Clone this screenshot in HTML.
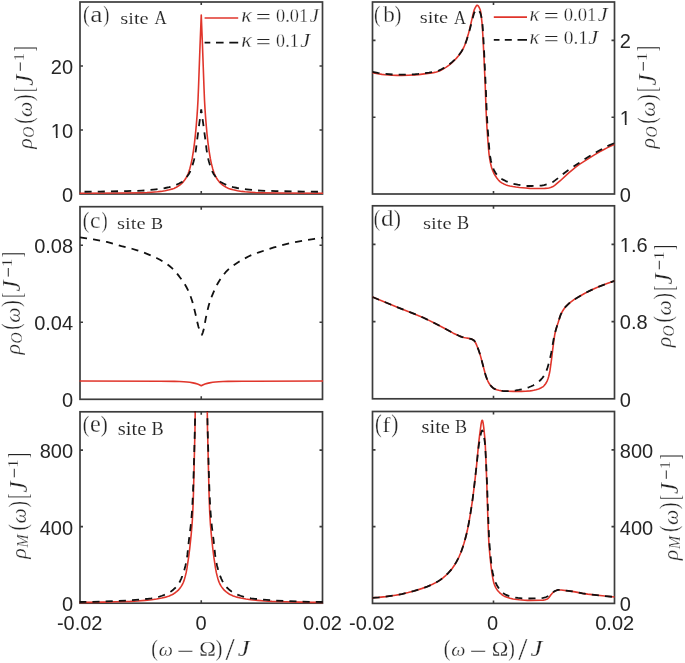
<!DOCTYPE html>
<html><head><meta charset="utf-8"><title>Figure</title>
<style>
html,body{margin:0;padding:0;background:#fff;}
body{width:685px;height:663px;overflow:hidden;font-family:"Liberation Sans",sans-serif;}
svg{display:block;will-change:transform;}
text{font-kerning:none;}
</style></head><body>
<svg width="685" height="663" viewBox="0 0 685 663">
<defs>
<clipPath id="c00"><rect x="79.40" y="1.40" width="243.70" height="193.60"/></clipPath>
<clipPath id="c10"><rect x="79.40" y="206.10" width="243.70" height="194.20"/></clipPath>
<clipPath id="c20"><rect x="79.40" y="411.20" width="243.70" height="193.00"/></clipPath>
<clipPath id="c01"><rect x="371.90" y="1.40" width="243.20" height="193.60"/></clipPath>
<clipPath id="c11"><rect x="371.90" y="205.20" width="243.20" height="194.60"/></clipPath>
<clipPath id="c21"><rect x="371.90" y="410.90" width="243.20" height="193.50"/></clipPath>
</defs>
<rect x="80.00" y="2.00" width="242.50" height="192.00" fill="none" stroke="#3c3c3c" stroke-width="1.7"/>
<path d="M201.25 2.00v3.00M201.25 194.00v-3.00M80.00 66.00h3.00M322.50 66.00h-3.00M80.00 130.00h3.00M322.50 130.00h-3.00" stroke="#3c3c3c" stroke-width="1.6" fill="none"/>
<rect x="80.00" y="206.70" width="242.50" height="192.60" fill="none" stroke="#3c3c3c" stroke-width="1.7"/>
<path d="M201.25 206.70v3.00M201.25 399.30v-3.00M80.00 245.22h3.00M322.50 245.22h-3.00M80.00 322.26h3.00M322.50 322.26h-3.00" stroke="#3c3c3c" stroke-width="1.6" fill="none"/>
<rect x="80.00" y="411.80" width="242.50" height="191.40" fill="none" stroke="#3c3c3c" stroke-width="1.7"/>
<path d="M201.25 411.80v3.00M201.25 603.20v-3.00M80.00 450.08h3.00M322.50 450.08h-3.00M80.00 526.64h3.00M322.50 526.64h-3.00" stroke="#3c3c3c" stroke-width="1.6" fill="none"/>
<rect x="372.50" y="2.00" width="242.00" height="192.00" fill="none" stroke="#3c3c3c" stroke-width="1.7"/>
<path d="M493.50 2.00v3.00M493.50 194.00v-3.00M372.50 40.40h3.00M614.50 40.40h-3.00M372.50 117.20h3.00M614.50 117.20h-3.00" stroke="#3c3c3c" stroke-width="1.6" fill="none"/>
<rect x="372.50" y="205.80" width="242.00" height="193.00" fill="none" stroke="#3c3c3c" stroke-width="1.7"/>
<path d="M493.50 205.80v3.00M493.50 398.80v-3.00M372.50 244.40h3.00M614.50 244.40h-3.00M372.50 321.60h3.00M614.50 321.60h-3.00" stroke="#3c3c3c" stroke-width="1.6" fill="none"/>
<rect x="372.50" y="411.50" width="242.00" height="191.90" fill="none" stroke="#3c3c3c" stroke-width="1.7"/>
<path d="M493.50 411.50v3.00M493.50 603.40v-3.00M372.50 449.88h3.00M614.50 449.88h-3.00M372.50 526.64h3.00M614.50 526.64h-3.00" stroke="#3c3c3c" stroke-width="1.6" fill="none"/>
<path d="M79.25 193.30L122.00 193.01L142.50 192.70L147.00 192.54L151.75 192.25L157.50 191.78L160.75 191.42L165.00 190.74L169.25 189.83L172.75 188.86L174.00 188.40L175.25 187.84L176.75 187.03L178.25 186.09L179.75 185.02L181.50 183.61L182.50 182.67L183.25 181.86L184.25 180.61L185.00 179.55L186.00 177.97L187.00 176.18L187.75 174.66L188.25 173.46L189.00 171.35L189.75 168.90L191.25 163.09L192.25 158.13L193.50 150.28L194.50 142.84L195.50 133.70L196.25 125.56L197.00 116.23L197.50 108.87L198.00 100.00L198.50 87.66L200.00 46.30L201.25 15.00L202.50 46.30L204.00 87.66L204.50 100.00L205.00 108.87L205.50 116.23L206.25 125.56L207.00 133.70L208.00 142.84L209.00 150.28L210.25 158.13L211.25 163.09L212.75 168.90L213.50 171.35L214.25 173.46L214.75 174.66L215.50 176.18L216.50 177.97L217.50 179.55L218.25 180.61L219.25 181.86L220.00 182.67L221.00 183.61L222.75 185.02L224.25 186.09L225.75 187.03L227.25 187.84L228.50 188.40L229.75 188.86L233.25 189.83L237.50 190.74L241.75 191.42L245.00 191.78L250.75 192.25L255.50 192.54L260.00 192.70L280.50 193.01L323.25 193.30" fill="none" stroke="#e0352b" stroke-width="1.6" stroke-linejoin="round" clip-path="url(#c00)"/>
<path d="M201.25 109.50L197.45 137.28L195.85 150.33L195.25 153.89L194.65 156.99L194.05 159.71L193.45 162.08L192.45 165.40L191.25 168.86L190.05 171.75L189.05 173.65L187.25 176.36L185.45 178.64L183.65 180.50L182.65 181.34L181.85 181.91L179.05 183.52L175.85 185.02L172.65 186.20L169.25 187.17L165.25 188.00L160.85 188.72L155.85 189.35L147.85 190.21L144.65 190.48L141.85 190.63L126.85 191.11L100.05 191.58L79.25 191.80" fill="none" stroke="#111111" stroke-width="1.8" stroke-linejoin="round" stroke-dasharray="7.1 6.1" clip-path="url(#c00)" stroke-dashoffset="3.4"/>
<path d="M201.25 109.50L205.05 137.28L206.65 150.33L207.25 153.89L207.85 156.99L208.45 159.71L209.05 162.08L210.05 165.40L211.25 168.86L212.45 171.75L213.45 173.65L215.25 176.36L217.05 178.64L218.85 180.50L219.85 181.34L220.65 181.91L223.45 183.52L226.65 185.02L229.85 186.20L233.25 187.17L237.25 188.00L241.65 188.72L246.65 189.35L254.65 190.21L257.85 190.48L260.65 190.63L275.65 191.11L302.45 191.58L323.25 191.80" fill="none" stroke="#111111" stroke-width="1.8" stroke-linejoin="round" stroke-dasharray="7.1 6.1" clip-path="url(#c00)" stroke-dashoffset="3.4"/>
<path d="M372.50 72.60L377.75 73.70L382.00 74.38L385.00 74.70L392.25 75.20L397.00 75.38L401.75 75.38L408.25 75.23L415.25 74.91L418.50 74.59L430.00 73.15L433.50 72.60L436.50 71.98L438.50 71.34L440.50 70.44L443.00 69.07L446.25 67.08L448.75 65.33L451.25 63.30L453.75 60.98L456.50 58.11L458.50 55.77L460.25 53.43L462.00 50.71L463.50 48.01L464.50 45.79L465.75 42.42L467.00 38.58L468.50 33.55L469.75 28.58L473.25 13.44L474.00 10.58L474.25 9.86L475.00 8.19L476.00 6.31L476.50 5.67L476.75 5.46L477.00 5.33L477.25 5.30L477.50 5.36L477.75 5.48L478.25 5.94L479.00 7.08L480.00 9.25L480.25 9.95L480.50 10.98L480.75 12.35L481.25 15.93L482.00 22.80L482.25 25.70L483.00 37.95L484.00 57.67L485.25 86.25L486.00 108.27L486.50 119.48L487.00 128.03L487.75 138.77L488.50 148.56L489.00 153.79L489.75 159.07L490.50 163.12L491.25 166.24L491.75 167.90L492.50 170.07L493.75 173.02L495.00 175.30L497.00 178.29L498.00 179.58L499.00 180.69L500.25 181.83L501.75 182.83L503.75 183.92L506.00 184.89L507.75 185.47L509.75 185.97L512.75 186.57L515.75 187.04L519.50 187.48L525.75 188.06L529.75 188.35L533.00 188.48L541.50 188.50L544.75 188.42L547.75 188.22L548.75 188.04L549.75 187.76L551.25 187.24L553.00 186.51L554.00 185.93L555.00 185.19L560.00 180.97L568.75 172.96L571.50 170.56L576.00 166.87L578.00 165.36L579.75 164.14L594.00 155.17L600.00 151.63L603.50 149.70L607.00 147.89L610.75 146.08L614.50 144.40" fill="none" stroke="#e0352b" stroke-width="1.6" stroke-linejoin="round" clip-path="url(#c01)"/>
<path d="M372.50 71.80L377.75 72.88L382.00 73.57L385.00 73.90L392.75 74.49L397.00 74.67L401.25 74.69L407.25 74.56L414.25 74.28L418.00 73.94L429.00 72.59L432.50 72.08L435.50 71.50L437.50 70.99L439.25 70.34L441.50 69.26L444.00 67.85L447.00 66.00L449.25 64.40L451.75 62.36L454.50 59.81L457.25 56.93L459.25 54.56L461.00 52.16L462.75 49.36L464.00 47.00L465.25 43.99L466.50 40.46L468.25 35.04L469.50 30.64L472.25 20.05L473.25 15.94L474.00 13.38L474.25 12.78L474.75 11.93L475.50 10.80L476.00 10.19L476.50 9.75L476.75 9.61L477.00 9.52L477.50 9.54L477.75 9.64L478.25 9.97L479.00 10.79L480.00 12.33L480.50 13.43L481.00 15.20L481.50 17.64L482.00 20.69L482.50 24.59L483.00 31.31L484.00 49.28L486.00 92.39L486.50 106.19L487.00 117.22L487.50 125.59L488.25 136.05L489.25 148.56L489.75 153.53L490.25 156.96L491.00 160.98L491.75 164.10L492.75 167.18L494.00 170.14L495.25 172.45L496.75 174.63L497.75 175.83L498.50 176.61L499.75 177.63L503.00 179.65L505.75 181.07L508.50 182.25L510.75 183.03L513.00 183.66L517.75 184.71L521.25 185.37L524.50 185.81L527.25 185.99L531.50 185.98L536.50 185.85L540.25 185.69L541.50 185.56L544.00 185.11L546.75 184.46L548.50 183.91L550.50 183.13L552.00 182.45L553.25 181.72L554.75 180.64L558.75 177.54L564.75 172.72L568.50 169.99L572.75 167.10L581.00 161.63L585.75 158.59L591.25 155.19L597.50 151.51L605.75 146.98L608.00 145.86L610.25 144.84L612.25 144.02L614.50 143.20" fill="none" stroke="#111111" stroke-width="1.8" stroke-linejoin="round" stroke-dasharray="7.1 6.1" clip-path="url(#c01)"/>
<path d="M80.00 237.40L86.50 238.35L93.50 239.48L102.25 241.02L106.75 241.93L111.25 243.09L121.50 246.09L132.00 248.75L137.25 250.30L142.00 251.92L147.00 253.82L152.25 255.99L156.50 257.95L160.00 259.77L163.50 261.82L166.50 263.80L169.50 266.05L172.00 268.17L174.00 270.14L176.50 272.96L179.25 276.42L182.25 280.44L184.25 283.38L186.25 286.72L188.00 290.13L189.25 292.95L190.50 296.14L191.75 299.70L192.75 302.86L194.00 307.73L196.00 316.20L197.75 324.09L198.50 326.96L199.25 329.18L200.25 331.75L201.00 333.36L201.90 334.80L202.40 333.70L202.90 332.29L203.40 330.62L203.90 328.66L205.90 317.70L207.40 310.83L208.65 305.78L209.65 302.42L210.65 299.43L211.90 296.08L213.15 293.04L215.15 288.56L217.15 284.53L218.90 281.44L221.15 278.00L223.40 274.92L225.65 272.21L227.90 269.92L230.65 267.54L232.40 266.19L234.40 264.76L238.90 261.85L243.90 258.88L248.40 256.51L251.90 254.92L255.40 253.54L258.90 252.32L267.90 249.35L273.90 247.46L279.40 245.89L285.15 244.37L290.40 243.15L296.65 241.91L305.90 240.26L314.65 238.80L322.50 237.60" fill="none" stroke="#111111" stroke-width="1.8" stroke-linejoin="round" stroke-dasharray="7.1 6.1" clip-path="url(#c10)"/>
<path d="M79.25 381.00L160.00 381.27L174.50 381.38L179.50 381.48L183.75 381.70L187.00 381.95L189.75 382.30L193.00 382.85L195.25 383.38L197.50 384.09L199.25 384.80L201.25 385.80L203.25 384.80L205.00 384.09L207.25 383.38L209.50 382.85L212.75 382.30L215.50 381.95L218.75 381.70L223.00 381.48L228.00 381.38L242.50 381.27L323.25 381.00" fill="none" stroke="#e0352b" stroke-width="1.6" stroke-linejoin="round" clip-path="url(#c10)"/>
<path d="M372.50 297.00L396.75 307.02L415.00 314.16L419.25 315.90L423.00 317.53L428.50 320.12L435.25 323.52L445.25 328.74L453.25 333.15L459.00 335.80L461.50 336.79L463.75 337.49L465.25 337.81L468.75 338.39L470.50 338.80L472.00 339.33L473.25 339.98L474.00 340.50L474.50 341.01L475.00 341.74L475.50 342.65L476.75 345.44L478.00 348.49L478.75 350.51L479.75 353.55L480.75 356.86L485.00 373.05L485.75 375.63L486.50 377.80L487.75 380.81L489.00 383.32L490.00 384.80L491.75 386.74L492.75 387.66L493.50 388.25L494.25 388.73L495.00 389.09L496.75 389.66L498.75 390.20L500.75 390.64L502.50 390.93L505.50 391.19L513.25 391.35L521.50 391.40L525.50 391.23L530.00 390.86L531.75 390.60L533.75 390.22L536.00 389.70L537.75 389.21L539.25 388.69L540.75 388.03L542.75 386.90L543.50 386.30L544.25 385.54L545.00 384.60L545.75 383.50L546.50 382.23L547.25 380.78L548.00 378.78L548.75 376.19L549.50 373.05L550.00 370.45L551.50 359.54L552.75 349.04L554.00 339.61L554.75 334.64L555.50 331.01L556.50 327.43L558.25 322.26L560.00 316.61L560.75 314.55L561.75 312.53L562.75 310.77L563.75 309.21L565.00 307.53L566.25 306.08L568.00 304.34L570.00 302.59L572.00 301.06L574.00 299.68L576.50 298.11L581.00 295.44L584.50 293.48L588.00 291.66L591.50 289.96L595.25 288.25L599.25 286.53L603.25 284.90L607.00 283.47L610.75 282.13L614.50 280.90" fill="none" stroke="#e0352b" stroke-width="1.6" stroke-linejoin="round" clip-path="url(#c11)"/>
<path d="M372.50 297.00L396.75 307.02L415.00 314.16L419.25 315.90L423.00 317.53L428.50 320.12L435.25 323.52L445.25 328.74L453.25 333.15L459.00 335.80L461.50 336.79L463.75 337.49L465.25 337.81L469.00 338.44L470.75 338.87L472.25 339.44L473.50 340.14L474.00 340.50L474.50 341.01L475.00 341.74L475.50 342.65L476.50 344.85L478.50 349.81L479.50 352.76L480.75 356.86L484.75 372.14L486.00 376.41L486.75 378.43L488.00 381.36L489.00 383.32L489.75 384.48L491.25 386.23L492.75 387.66L494.00 388.58L495.25 389.18L499.00 390.29L500.75 390.68L502.50 390.97L504.00 391.13L505.50 391.20L509.50 391.06L513.25 390.76L515.75 390.47L518.75 389.97L522.00 389.31L524.25 388.75L526.50 388.08L528.75 387.29L531.25 386.28L533.00 385.47L534.75 384.49L536.50 383.34L538.25 382.01L540.00 380.50L541.25 379.26L542.50 377.83L543.75 376.14L544.50 374.97L545.25 373.65L546.25 371.36L547.50 367.76L549.00 362.73L550.00 358.66L551.25 352.75L552.00 348.74L553.50 339.81L554.75 334.07L555.50 331.13L556.25 328.51L560.00 316.62L560.50 315.18L561.00 314.00L561.75 312.53L562.75 310.77L564.50 308.17L565.50 306.92L566.50 305.81L568.00 304.34L569.75 302.80L571.50 301.42L573.50 300.01L576.00 298.41L580.50 295.73L583.25 294.16L586.25 292.56L589.50 290.92L592.75 289.38L596.25 287.81L600.25 286.11L607.50 283.28L611.00 282.04L614.50 280.90" fill="none" stroke="#111111" stroke-width="1.8" stroke-linejoin="round" stroke-dasharray="7.1 6.1" clip-path="url(#c11)"/>
<path d="M79.30 602.40L90.80 602.34L103.00 602.15L117.00 601.82L130.50 601.39L137.50 601.00L144.90 600.41L151.70 599.74L156.60 599.06L161.80 598.08L165.60 597.14L167.50 596.55L169.30 595.90L171.20 595.11L172.50 594.48L173.80 593.71L175.20 592.74L176.60 591.62L178.00 590.35L179.00 589.32L180.00 588.14L180.90 586.90L181.70 585.63L182.60 584.00L183.20 582.72L183.80 581.16L184.50 579.01L185.30 576.14L186.10 572.88L187.00 568.21L188.60 557.46L189.70 548.75L191.20 534.40L192.00 525.11L192.40 519.19L192.80 511.37L193.20 501.39L193.50 491.88L195.00 428.81L195.30 405.00" fill="none" stroke="#e0352b" stroke-width="1.6" stroke-linejoin="round" clip-path="url(#c20)"/>
<path d="M207.20 405.00L207.50 428.81L209.00 491.88L209.30 501.39L209.70 511.37L210.10 519.19L210.50 525.11L211.30 534.40L212.80 548.75L213.90 557.46L215.50 568.21L216.40 572.88L217.20 576.14L218.00 579.01L218.70 581.16L219.30 582.72L219.90 584.00L220.80 585.63L221.60 586.90L222.50 588.14L223.50 589.32L224.50 590.35L225.90 591.62L227.30 592.74L228.70 593.71L230.00 594.48L231.30 595.11L233.20 595.90L235.00 596.55L236.90 597.14L240.70 598.08L245.90 599.06L250.80 599.74L257.60 600.41L265.00 601.00L272.00 601.39L285.50 601.82L299.50 602.15L311.70 602.34L323.20 602.40" fill="none" stroke="#e0352b" stroke-width="1.6" stroke-linejoin="round" clip-path="url(#c20)"/>
<path d="M79.25 602.00L89.65 601.91L100.95 601.64L113.35 601.17L128.05 600.48L131.75 600.21L147.55 598.80L151.45 598.36L154.55 597.88L156.35 597.49L158.25 597.00L162.05 595.75L164.35 594.85L166.65 593.85L168.15 593.11L169.55 592.33L170.95 591.43L172.25 590.49L173.55 589.44L174.85 588.25L176.15 586.93L177.45 585.46L178.15 584.52L178.95 583.25L180.05 581.20L181.15 578.80L182.25 576.10L183.45 572.81L184.15 570.63L184.85 568.11L185.55 565.18L186.15 562.32L186.95 557.89L187.35 554.93L188.95 539.90L190.55 527.22L191.25 520.55L191.85 513.19L192.45 503.72L192.85 495.74L193.25 485.29L193.85 466.70L194.85 429.10L195.05 420.00L195.25 405.00" fill="none" stroke="#111111" stroke-width="1.8" stroke-linejoin="round" stroke-dasharray="7.1 6.1" clip-path="url(#c20)"/>
<path d="M207.25 405.00L207.45 420.00L207.65 429.10L208.65 466.70L209.25 485.29L209.65 495.74L210.05 503.72L210.65 513.19L211.25 520.55L211.95 527.22L213.55 539.90L215.15 554.93L215.55 557.89L216.35 562.32L216.95 565.18L217.65 568.11L218.35 570.63L219.05 572.81L220.25 576.10L221.35 578.80L222.45 581.20L223.55 583.25L224.35 584.52L225.05 585.46L226.35 586.93L227.65 588.25L228.95 589.44L230.25 590.49L231.55 591.43L232.95 592.33L234.35 593.11L235.85 593.85L238.15 594.85L240.45 595.75L244.25 597.00L246.15 597.49L247.95 597.88L251.05 598.36L254.95 598.80L270.75 600.21L274.45 600.48L289.15 601.17L301.55 601.64L312.85 601.91L323.25 602.00" fill="none" stroke="#111111" stroke-width="1.8" stroke-linejoin="round" stroke-dasharray="7.1 6.1" clip-path="url(#c20)"/>
<path d="M372.50 597.80L378.75 597.37L385.75 596.59L395.50 595.17L399.00 594.59L402.00 594.01L408.25 592.55L415.00 590.66L422.25 588.37L425.25 587.32L428.00 586.26L432.50 584.30L436.75 582.11L438.50 581.09L440.00 580.11L443.00 577.87L444.75 576.38L446.50 574.76L448.25 573.01L450.00 571.11L451.25 569.64L452.50 568.02L454.75 564.68L457.00 560.79L459.25 556.29L460.75 552.79L462.25 548.70L464.00 543.21L465.75 536.93L467.25 530.80L468.50 524.69L469.50 519.17L470.75 511.63L472.00 503.50L473.00 496.31L474.50 484.04L476.50 466.07L478.50 444.94L479.25 438.18L481.00 424.61L481.50 421.90L481.75 420.99L482.00 420.44L482.25 420.31L482.50 420.62L482.75 421.34L483.00 422.43L483.25 423.85L483.75 427.55L484.75 437.27L485.25 444.57L485.75 455.62L486.75 482.14L487.75 514.33L488.50 535.73L489.00 544.73L489.50 550.85L490.25 558.95L491.25 567.98L492.00 573.43L493.00 579.27L493.75 582.67L494.50 584.85L495.75 587.58L496.50 588.88L497.25 589.98L498.25 591.22L499.50 592.55L500.75 593.71L502.00 594.73L503.25 595.58L504.25 596.14L507.00 597.31L510.00 598.30L513.00 598.98L519.25 599.79L524.75 600.27L527.25 600.37L530.00 600.40L541.00 600.24L543.25 600.12L544.25 599.94L545.25 599.67L547.25 598.91L547.75 598.67L548.25 598.30L549.00 597.43L550.75 594.99L552.75 592.77L553.75 591.86L555.00 591.12L556.50 590.40L557.50 590.06L558.50 589.90L559.75 589.93L561.25 590.06L568.25 590.85L572.00 591.34L575.00 591.85L582.50 593.37L587.75 594.13L602.25 595.78L614.50 597.00" fill="none" stroke="#e0352b" stroke-width="1.6" stroke-linejoin="round" clip-path="url(#c21)"/>
<path d="M372.50 597.80L378.75 597.37L385.75 596.59L395.25 595.21L398.75 594.64L401.75 594.06L407.75 592.68L414.25 590.88L421.50 588.62L424.50 587.59L427.25 586.56L431.75 584.65L436.00 582.52L437.75 581.54L439.25 580.61L442.25 578.46L444.00 577.03L445.75 575.47L447.50 573.77L449.00 572.21L451.50 569.33L452.75 567.67L454.00 565.86L456.25 562.15L458.25 558.37L460.00 554.61L461.50 550.82L463.00 546.45L464.75 540.62L466.50 534.00L467.75 528.47L469.00 522.00L470.25 514.73L471.75 505.17L472.75 498.12L474.25 485.79L476.75 463.91L478.25 449.73L479.00 443.82L480.25 436.77L481.00 433.20L481.50 431.49L481.75 430.92L482.00 430.59L482.25 430.51L482.50 430.70L482.75 431.16L483.00 431.85L483.25 432.77L483.75 435.17L484.75 441.64L485.00 443.80L485.25 446.90L486.00 460.42L487.00 482.70L488.25 517.97L489.00 536.29L489.25 540.78L489.75 547.26L491.50 565.57L492.00 569.08L492.75 573.02L493.50 576.27L494.50 579.70L495.50 582.32L496.75 584.97L498.00 587.11L499.50 589.18L501.75 591.73L502.75 592.68L503.75 593.50L504.50 594.01L505.50 594.56L508.50 595.93L511.00 596.80L513.25 597.31L518.00 597.94L522.25 598.33L526.50 598.50L533.50 598.41L541.75 598.04L543.00 597.93L544.00 597.73L545.00 597.45L546.25 596.99L549.00 595.69L549.75 595.14L552.00 593.08L553.75 591.73L554.75 591.12L556.25 590.48L557.25 590.13L558.00 589.96L558.75 589.90L561.50 590.08L568.25 590.85L572.25 591.38L575.25 591.90L582.50 593.37L587.50 594.10L602.00 595.76L614.50 597.00" fill="none" stroke="#111111" stroke-width="1.8" stroke-linejoin="round" stroke-dasharray="7.1 6.1" clip-path="url(#c21)"/>
<path d="M204.6 18H238.2" stroke="#e0352b" stroke-width="1.6"/>
<path d="M493.8 17.1H527" stroke="#e0352b" stroke-width="1.6"/>
<path d="M204.6 42.7H210.3M216 42.7H223.6M229.3 42.7H238.2" stroke="#111111" stroke-width="1.8"/>
<path d="M493.8 39.9H499.5M504.8 39.9H511.8M517.5 39.9H527" stroke="#111111" stroke-width="1.8"/>
<text x="73.10" y="73.88" font-size="20" text-anchor="end" font-family="Liberation Sans, sans-serif" fill="#262626">20</text>
<text x="73.10" y="137.88" font-size="20" text-anchor="end" font-family="Liberation Sans, sans-serif" fill="#262626">10</text>
<rect x="51.65" y="135.49" width="4.23" height="3.19" fill="#fff"/>
<rect x="57.65" y="135.49" width="4.00" height="3.19" fill="#fff"/>
<text x="73.10" y="201.88" font-size="20" text-anchor="end" font-family="Liberation Sans, sans-serif" fill="#262626">0</text>
<text x="73.10" y="253.10" font-size="20" text-anchor="end" font-family="Liberation Sans, sans-serif" fill="#262626">0.08</text>
<text x="73.10" y="330.14" font-size="20" text-anchor="end" font-family="Liberation Sans, sans-serif" fill="#262626">0.04</text>
<text x="73.10" y="407.18" font-size="20" text-anchor="end" font-family="Liberation Sans, sans-serif" fill="#262626">0</text>
<text x="73.10" y="457.96" font-size="20" text-anchor="end" font-family="Liberation Sans, sans-serif" fill="#262626">800</text>
<text x="73.10" y="534.52" font-size="20" text-anchor="end" font-family="Liberation Sans, sans-serif" fill="#262626">400</text>
<text x="73.10" y="611.08" font-size="20" text-anchor="end" font-family="Liberation Sans, sans-serif" fill="#262626">0</text>
<text x="619.80" y="48.28" font-size="20" text-anchor="start" font-family="Liberation Sans, sans-serif" fill="#262626">2</text>
<text x="619.80" y="125.08" font-size="20" text-anchor="start" font-family="Liberation Sans, sans-serif" fill="#262626">1</text>
<rect x="620.60" y="122.69" width="4.23" height="3.19" fill="#fff"/>
<rect x="626.60" y="122.69" width="4.00" height="3.19" fill="#fff"/>
<text x="619.80" y="201.88" font-size="20" text-anchor="start" font-family="Liberation Sans, sans-serif" fill="#262626">0</text>
<text x="619.80" y="252.28" font-size="20" text-anchor="start" font-family="Liberation Sans, sans-serif" fill="#262626">1.6</text>
<rect x="620.60" y="249.89" width="4.23" height="3.19" fill="#fff"/>
<rect x="626.60" y="249.89" width="4.00" height="3.19" fill="#fff"/>
<text x="619.80" y="329.48" font-size="20" text-anchor="start" font-family="Liberation Sans, sans-serif" fill="#262626">0.8</text>
<text x="619.80" y="406.68" font-size="20" text-anchor="start" font-family="Liberation Sans, sans-serif" fill="#262626">0</text>
<text x="619.80" y="457.76" font-size="20" text-anchor="start" font-family="Liberation Sans, sans-serif" fill="#262626">800</text>
<text x="619.80" y="534.52" font-size="20" text-anchor="start" font-family="Liberation Sans, sans-serif" fill="#262626">400</text>
<text x="619.80" y="611.28" font-size="20" text-anchor="start" font-family="Liberation Sans, sans-serif" fill="#262626">0</text>
<text x="79.70" y="630.00" font-size="20" text-anchor="middle" font-family="Liberation Sans, sans-serif" fill="#262626">-0.02</text>
<text x="201.00" y="630.00" font-size="20" text-anchor="middle" font-family="Liberation Sans, sans-serif" fill="#262626">0</text>
<text x="322.50" y="630.00" font-size="20" text-anchor="middle" font-family="Liberation Sans, sans-serif" fill="#262626">0.02</text>
<text x="371.90" y="630.00" font-size="20" text-anchor="middle" font-family="Liberation Sans, sans-serif" fill="#262626">-0.02</text>
<text x="492.60" y="630.00" font-size="20" text-anchor="middle" font-family="Liberation Sans, sans-serif" fill="#262626">0</text>
<text x="614.70" y="630.00" font-size="20" text-anchor="middle" font-family="Liberation Sans, sans-serif" fill="#262626">0.02</text>
<text transform="matrix(0.2025 0 0 0.2382 83.01 22.33)" font-size="100" font-family="Liberation Serif, serif" fill="#242424" stroke="#fff" stroke-width="1.18">(</text>
<text transform="matrix(0.2759 0 0 0.2307 90.23 21.87)" font-size="100" font-family="Liberation Serif, serif" fill="#242424" stroke="#fff" stroke-width="1.03">a</text>
<text transform="matrix(0.1830 0 0 0.2382 103.31 22.33)" font-size="100" font-family="Liberation Serif, serif" fill="#242424" stroke="#fff" stroke-width="1.23">)</text>
<text transform="matrix(0.2049 0 0 0.1689 120.26 23.89)" font-size="100" font-family="Liberation Serif, serif" fill="#242424" stroke="#fff" stroke-width="0.64">site</text>
<text transform="matrix(0.1688 0 0 0.1818 154.44 23.90)" font-size="100" font-family="Liberation Serif, serif" fill="#242424" stroke="#fff" stroke-width="0.68">A</text>
<text transform="matrix(0.1947 0 0 0.2327 373.94 21.95)" font-size="100" font-family="Liberation Serif, serif" fill="#242424" stroke="#fff" stroke-width="1.22">(</text>
<text transform="matrix(0.2316 0 0 0.2295 383.20 22.08)" font-size="100" font-family="Liberation Serif, serif" fill="#242424" stroke="#fff" stroke-width="1.13">b</text>
<text transform="matrix(0.1966 0 0 0.2327 394.77 21.95)" font-size="100" font-family="Liberation Serif, serif" fill="#242424" stroke="#fff" stroke-width="1.21">)</text>
<text transform="matrix(0.2049 0 0 0.1749 419.76 23.48)" font-size="100" font-family="Liberation Serif, serif" fill="#242424" stroke="#fff" stroke-width="0.63">site</text>
<text transform="matrix(0.1659 0 0 0.1787 453.94 23.50)" font-size="100" font-family="Liberation Serif, serif" fill="#242424" stroke="#fff" stroke-width="0.70">A</text>
<text transform="matrix(0.1947 0 0 0.2349 82.84 227.80)" font-size="100" font-family="Liberation Serif, serif" fill="#242424" stroke="#fff" stroke-width="1.21">(</text>
<text transform="matrix(0.2333 0 0 0.2370 90.06 227.67)" font-size="100" font-family="Liberation Serif, serif" fill="#242424" stroke="#fff" stroke-width="1.11">c</text>
<text transform="matrix(0.1830 0 0 0.2349 101.41 227.80)" font-size="100" font-family="Liberation Serif, serif" fill="#242424" stroke="#fff" stroke-width="1.24">)</text>
<text transform="matrix(0.2064 0 0 0.1645 117.05 229.09)" font-size="100" font-family="Liberation Serif, serif" fill="#242424" stroke="#fff" stroke-width="0.65">site</text>
<text transform="matrix(0.1816 0 0 0.1748 150.88 229.05)" font-size="100" font-family="Liberation Serif, serif" fill="#242424" stroke="#fff" stroke-width="0.67">B</text>
<text transform="matrix(0.1888 0 0 0.2349 373.82 225.80)" font-size="100" font-family="Liberation Serif, serif" fill="#242424" stroke="#fff" stroke-width="1.23">(</text>
<text transform="matrix(0.2502 0 0 0.2373 381.00 226.37)" font-size="100" font-family="Liberation Serif, serif" fill="#242424" stroke="#fff" stroke-width="1.07">d</text>
<text transform="matrix(0.2161 0 0 0.2349 393.80 225.80)" font-size="100" font-family="Liberation Serif, serif" fill="#242424" stroke="#fff" stroke-width="1.15">)</text>
<text transform="matrix(0.2072 0 0 0.1674 422.95 228.99)" font-size="100" font-family="Liberation Serif, serif" fill="#242424" stroke="#fff" stroke-width="0.64">site</text>
<text transform="matrix(0.1833 0 0 0.1779 456.97 228.95)" font-size="100" font-family="Liberation Serif, serif" fill="#242424" stroke="#fff" stroke-width="0.66">B</text>
<text transform="matrix(0.1947 0 0 0.2294 82.84 432.02)" font-size="100" font-family="Liberation Serif, serif" fill="#242424" stroke="#fff" stroke-width="1.23">(</text>
<text transform="matrix(0.2432 0 0 0.2412 90.05 431.76)" font-size="100" font-family="Liberation Serif, serif" fill="#242424" stroke="#fff" stroke-width="1.07">e</text>
<text transform="matrix(0.2103 0 0 0.2294 100.82 432.02)" font-size="100" font-family="Liberation Serif, serif" fill="#242424" stroke="#fff" stroke-width="1.18">)</text>
<text transform="matrix(0.2068 0 0 0.1779 117.65 434.78)" font-size="100" font-family="Liberation Serif, serif" fill="#242424" stroke="#fff" stroke-width="0.62">site</text>
<text transform="matrix(0.1824 0 0 0.1931 151.52 434.74)" font-size="100" font-family="Liberation Serif, serif" fill="#242424" stroke="#fff" stroke-width="0.64">B</text>
<text transform="matrix(0.2025 0 0 0.2426 375.01 431.63)" font-size="100" font-family="Liberation Serif, serif" fill="#242424" stroke="#fff" stroke-width="1.17">(</text>
<text transform="matrix(0.2465 0 0 0.2166 382.19 431.85)" font-size="100" font-family="Liberation Serif, serif" fill="#242424" stroke="#fff" stroke-width="1.12">f</text>
<text transform="matrix(0.2161 0 0 0.2426 391.15 431.63)" font-size="100" font-family="Liberation Serif, serif" fill="#242424" stroke="#fff" stroke-width="1.13">)</text>
<text transform="matrix(0.2056 0 0 0.1913 421.46 433.26)" font-size="100" font-family="Liberation Serif, serif" fill="#242424" stroke="#fff" stroke-width="0.60">site</text>
<text transform="matrix(0.1816 0 0 0.1809 455.08 433.25)" font-size="100" font-family="Liberation Serif, serif" fill="#242424" stroke="#fff" stroke-width="0.66">B</text>
<text transform="matrix(0.2224 0 0 0.2092 241.19 22.00)" font-size="100" font-family="Liberation Serif, serif" font-style="italic" fill="#242424" stroke="#fff" stroke-width="1.20">κ</text>
<text transform="matrix(0.2686 0 0 0.2040 255.86 23.92)" font-size="100" font-family="Liberation Serif, serif" fill="#242424" stroke="#fff" stroke-width="1.10">=</text>
<text transform="matrix(0.1834 0 0 0.1899 276.10 22.03)" font-size="100" font-family="Liberation Serif, serif" fill="#242424" stroke="#fff" stroke-width="1.39">0.01</text>
<text transform="matrix(0.2052 0 0 0.1971 309.69 22.31)" font-size="100" font-family="Liberation Serif, serif" font-style="italic" fill="#242424" stroke="#fff" stroke-width="1.29">J</text>
<text transform="matrix(0.2224 0 0 0.2092 241.19 46.70)" font-size="100" font-family="Liberation Serif, serif" font-style="italic" fill="#242424" stroke="#fff" stroke-width="1.20">κ</text>
<text transform="matrix(0.2686 0 0 0.2040 255.86 48.62)" font-size="100" font-family="Liberation Serif, serif" fill="#242424" stroke="#fff" stroke-width="1.10">=</text>
<text transform="matrix(0.1806 0 0 0.1899 276.11 46.73)" font-size="100" font-family="Liberation Serif, serif" fill="#242424" stroke="#fff" stroke-width="1.40">0.1</text>
<text transform="matrix(0.2223 0 0 0.1971 300.16 47.01)" font-size="100" font-family="Liberation Serif, serif" font-style="italic" fill="#242424" stroke="#fff" stroke-width="1.24">J</text>
<text transform="matrix(0.2092 0 0 0.2092 529.43 20.60)" font-size="100" font-family="Liberation Serif, serif" font-style="italic" fill="#242424" stroke="#fff" stroke-width="1.24">κ</text>
<text transform="matrix(0.2665 0 0 0.2040 543.67 22.52)" font-size="100" font-family="Liberation Serif, serif" fill="#242424" stroke="#fff" stroke-width="1.11">=</text>
<text transform="matrix(0.1871 0 0 0.1899 563.69 20.63)" font-size="100" font-family="Liberation Serif, serif" fill="#242424" stroke="#fff" stroke-width="1.38">0.01</text>
<text transform="matrix(0.2223 0 0 0.1971 597.86 20.91)" font-size="100" font-family="Liberation Serif, serif" font-style="italic" fill="#242424" stroke="#fff" stroke-width="1.24">J</text>
<text transform="matrix(0.2092 0 0 0.2092 529.43 43.80)" font-size="100" font-family="Liberation Serif, serif" font-style="italic" fill="#242424" stroke="#fff" stroke-width="1.24">κ</text>
<text transform="matrix(0.2665 0 0 0.2040 543.67 45.72)" font-size="100" font-family="Liberation Serif, serif" fill="#242424" stroke="#fff" stroke-width="1.11">=</text>
<text transform="matrix(0.1945 0 0 0.1899 563.66 43.83)" font-size="100" font-family="Liberation Serif, serif" fill="#242424" stroke="#fff" stroke-width="1.35">0.1</text>
<text transform="matrix(0.2223 0 0 0.1971 588.36 44.11)" font-size="100" font-family="Liberation Serif, serif" font-style="italic" fill="#242424" stroke="#fff" stroke-width="1.24">J</text>
<text transform="matrix(0.1986 0 0 0.2305 151.13 655.59)" font-size="100" font-family="Liberation Serif, serif" fill="#242424" stroke="#fff" stroke-width="1.21">(</text>
<text transform="matrix(0.2003 0 0 0.1964 158.63 655.51)" font-size="100" font-family="Liberation Serif, serif" font-style="italic" fill="#242424" stroke="#fff" stroke-width="1.31">ω</text>
<text transform="matrix(0.3052 0 0 0.2610 177.08 659.52)" font-size="100" font-family="Liberation Serif, serif" fill="#242424" stroke="#fff" stroke-width="0.92">−</text>
<text transform="matrix(0.2236 0 0 0.2160 199.24 655.50)" font-size="100" font-family="Liberation Serif, serif" fill="#242424" stroke="#fff" stroke-width="1.18">Ω</text>
<text transform="matrix(0.1986 0 0 0.2305 215.66 655.59)" font-size="100" font-family="Liberation Serif, serif" fill="#242424" stroke="#fff" stroke-width="1.21">)</text>
<text transform="matrix(0.3311 0 0 0.3124 225.60 660.19)" font-size="100" font-family="Liberation Serif, serif" fill="#242424" stroke="#fff" stroke-width="0.81">/</text>
<text transform="matrix(0.2694 0 0 0.2212 237.79 655.68)" font-size="100" font-family="Liberation Serif, serif" font-style="italic" fill="#242424" stroke="#fff" stroke-width="1.06">J</text>
<text transform="matrix(0.1986 0 0 0.2305 443.73 655.59)" font-size="100" font-family="Liberation Serif, serif" fill="#242424" stroke="#fff" stroke-width="1.21">(</text>
<text transform="matrix(0.2003 0 0 0.1964 451.23 655.51)" font-size="100" font-family="Liberation Serif, serif" font-style="italic" fill="#242424" stroke="#fff" stroke-width="1.31">ω</text>
<text transform="matrix(0.3052 0 0 0.2610 469.68 659.52)" font-size="100" font-family="Liberation Serif, serif" fill="#242424" stroke="#fff" stroke-width="0.92">−</text>
<text transform="matrix(0.2236 0 0 0.2160 491.84 655.50)" font-size="100" font-family="Liberation Serif, serif" fill="#242424" stroke="#fff" stroke-width="1.18">Ω</text>
<text transform="matrix(0.1986 0 0 0.2305 508.26 655.59)" font-size="100" font-family="Liberation Serif, serif" fill="#242424" stroke="#fff" stroke-width="1.21">)</text>
<text transform="matrix(0.3311 0 0 0.3124 518.20 660.19)" font-size="100" font-family="Liberation Serif, serif" fill="#242424" stroke="#fff" stroke-width="0.81">/</text>
<text transform="matrix(0.2694 0 0 0.2212 530.39 655.68)" font-size="100" font-family="Liberation Serif, serif" font-style="italic" fill="#242424" stroke="#fff" stroke-width="1.06">J</text>
<g transform="translate(32.00 149.20) rotate(-90)">
<text transform="matrix(0.2189 0 0 0.2126 0.56 -0.13)" font-size="100" font-family="Liberation Serif, serif" font-style="italic" fill="#242424" stroke="#fff" stroke-width="1.21">ρ</text>
<text transform="matrix(0.1542 0 0 0.1622 11.42 2.44)" font-size="100" font-family="Liberation Serif, serif" font-style="italic" fill="#242424" stroke="#fff" stroke-width="1.64">O</text>
<g transform="translate(0.00 0)">
<text transform="matrix(0.1947 0 0 0.2448 25.34 -0.31)" font-size="100" font-family="Liberation Serif, serif" fill="#242424" stroke="#fff" stroke-width="1.18">(</text>
<text transform="matrix(0.2162 0 0 0.2132 32.28 -0.11)" font-size="100" font-family="Liberation Serif, serif" font-style="italic" fill="#242424" stroke="#fff" stroke-width="1.21">ω</text>
<text transform="matrix(0.1908 0 0 0.2448 48.29 -0.31)" font-size="100" font-family="Liberation Serif, serif" fill="#242424" stroke="#fff" stroke-width="1.19">)</text>
<text transform="matrix(0.1437 0 0 0.2755 57.23 1.31)" font-size="100" font-family="Liberation Serif, serif" fill="#242424" stroke="#fff" stroke-width="1.24">[</text>
<text transform="matrix(0.2501 0 0 0.2528 63.42 0.55)" font-size="100" font-family="Liberation Serif, serif" font-style="italic" fill="#242424" stroke="#fff" stroke-width="1.03">J</text>
<text transform="matrix(0.1848 0 0 0.2610 77.78 -3.08)" font-size="100" font-family="Liberation Serif, serif" fill="#242424" stroke="#fff" stroke-width="1.17">−</text>
<text transform="matrix(0.1676 0 0 0.1484 88.03 -7.80)" font-size="100" font-family="Liberation Serif, serif" fill="#242424" stroke="#fff" stroke-width="1.65">1</text>
<text transform="matrix(0.1437 0 0 0.2755 97.98 1.31)" font-size="100" font-family="Liberation Serif, serif" fill="#242424" stroke="#fff" stroke-width="1.24">]</text>
</g></g>
<g transform="translate(19.80 355.00) rotate(-90)">
<text transform="matrix(0.2189 0 0 0.2126 0.56 -0.13)" font-size="100" font-family="Liberation Serif, serif" font-style="italic" fill="#242424" stroke="#fff" stroke-width="1.21">ρ</text>
<text transform="matrix(0.1542 0 0 0.1622 11.42 2.44)" font-size="100" font-family="Liberation Serif, serif" font-style="italic" fill="#242424" stroke="#fff" stroke-width="1.64">O</text>
<g transform="translate(0.00 0)">
<text transform="matrix(0.1947 0 0 0.2448 25.34 -0.31)" font-size="100" font-family="Liberation Serif, serif" fill="#242424" stroke="#fff" stroke-width="1.18">(</text>
<text transform="matrix(0.2162 0 0 0.2132 32.28 -0.11)" font-size="100" font-family="Liberation Serif, serif" font-style="italic" fill="#242424" stroke="#fff" stroke-width="1.21">ω</text>
<text transform="matrix(0.1908 0 0 0.2448 48.29 -0.31)" font-size="100" font-family="Liberation Serif, serif" fill="#242424" stroke="#fff" stroke-width="1.19">)</text>
<text transform="matrix(0.1437 0 0 0.2755 57.23 1.31)" font-size="100" font-family="Liberation Serif, serif" fill="#242424" stroke="#fff" stroke-width="1.24">[</text>
<text transform="matrix(0.2501 0 0 0.2528 63.42 0.55)" font-size="100" font-family="Liberation Serif, serif" font-style="italic" fill="#242424" stroke="#fff" stroke-width="1.03">J</text>
<text transform="matrix(0.1848 0 0 0.2610 77.78 -3.08)" font-size="100" font-family="Liberation Serif, serif" fill="#242424" stroke="#fff" stroke-width="1.17">−</text>
<text transform="matrix(0.1676 0 0 0.1484 88.03 -7.80)" font-size="100" font-family="Liberation Serif, serif" fill="#242424" stroke="#fff" stroke-width="1.65">1</text>
<text transform="matrix(0.1437 0 0 0.2755 97.98 1.31)" font-size="100" font-family="Liberation Serif, serif" fill="#242424" stroke="#fff" stroke-width="1.24">]</text>
</g></g>
<g transform="translate(26.00 559.30) rotate(-90)">
<text transform="matrix(0.2189 0 0 0.2126 0.56 -0.13)" font-size="100" font-family="Liberation Serif, serif" font-style="italic" fill="#242424" stroke="#fff" stroke-width="1.21">ρ</text>
<text transform="matrix(0.1572 0 0 0.1573 11.68 2.40)" font-size="100" font-family="Liberation Serif, serif" font-style="italic" fill="#242424" stroke="#fff" stroke-width="1.65">M</text>
<g transform="translate(3.50 0)">
<text transform="matrix(0.1947 0 0 0.2448 25.34 -0.31)" font-size="100" font-family="Liberation Serif, serif" fill="#242424" stroke="#fff" stroke-width="1.18">(</text>
<text transform="matrix(0.2162 0 0 0.2132 32.28 -0.11)" font-size="100" font-family="Liberation Serif, serif" font-style="italic" fill="#242424" stroke="#fff" stroke-width="1.21">ω</text>
<text transform="matrix(0.1908 0 0 0.2448 48.29 -0.31)" font-size="100" font-family="Liberation Serif, serif" fill="#242424" stroke="#fff" stroke-width="1.19">)</text>
<text transform="matrix(0.1437 0 0 0.2755 57.23 1.31)" font-size="100" font-family="Liberation Serif, serif" fill="#242424" stroke="#fff" stroke-width="1.24">[</text>
<text transform="matrix(0.2501 0 0 0.2528 63.42 0.55)" font-size="100" font-family="Liberation Serif, serif" font-style="italic" fill="#242424" stroke="#fff" stroke-width="1.03">J</text>
<text transform="matrix(0.1848 0 0 0.2610 77.78 -3.08)" font-size="100" font-family="Liberation Serif, serif" fill="#242424" stroke="#fff" stroke-width="1.17">−</text>
<text transform="matrix(0.1676 0 0 0.1484 88.03 -7.80)" font-size="100" font-family="Liberation Serif, serif" fill="#242424" stroke="#fff" stroke-width="1.65">1</text>
<text transform="matrix(0.1437 0 0 0.2755 97.98 1.31)" font-size="100" font-family="Liberation Serif, serif" fill="#242424" stroke="#fff" stroke-width="1.24">]</text>
</g></g>
<g transform="translate(655.00 149.00) rotate(-90)">
<text transform="matrix(0.2189 0 0 0.2126 0.56 -0.13)" font-size="100" font-family="Liberation Serif, serif" font-style="italic" fill="#242424" stroke="#fff" stroke-width="1.21">ρ</text>
<text transform="matrix(0.1542 0 0 0.1622 11.42 2.44)" font-size="100" font-family="Liberation Serif, serif" font-style="italic" fill="#242424" stroke="#fff" stroke-width="1.64">O</text>
<g transform="translate(0.00 0)">
<text transform="matrix(0.1947 0 0 0.2448 25.34 -0.31)" font-size="100" font-family="Liberation Serif, serif" fill="#242424" stroke="#fff" stroke-width="1.18">(</text>
<text transform="matrix(0.2162 0 0 0.2132 32.28 -0.11)" font-size="100" font-family="Liberation Serif, serif" font-style="italic" fill="#242424" stroke="#fff" stroke-width="1.21">ω</text>
<text transform="matrix(0.1908 0 0 0.2448 48.29 -0.31)" font-size="100" font-family="Liberation Serif, serif" fill="#242424" stroke="#fff" stroke-width="1.19">)</text>
<text transform="matrix(0.1437 0 0 0.2755 57.23 1.31)" font-size="100" font-family="Liberation Serif, serif" fill="#242424" stroke="#fff" stroke-width="1.24">[</text>
<text transform="matrix(0.2501 0 0 0.2528 63.42 0.55)" font-size="100" font-family="Liberation Serif, serif" font-style="italic" fill="#242424" stroke="#fff" stroke-width="1.03">J</text>
<text transform="matrix(0.1848 0 0 0.2610 77.78 -3.08)" font-size="100" font-family="Liberation Serif, serif" fill="#242424" stroke="#fff" stroke-width="1.17">−</text>
<text transform="matrix(0.1676 0 0 0.1484 88.03 -7.80)" font-size="100" font-family="Liberation Serif, serif" fill="#242424" stroke="#fff" stroke-width="1.65">1</text>
<text transform="matrix(0.1437 0 0 0.2755 97.98 1.31)" font-size="100" font-family="Liberation Serif, serif" fill="#242424" stroke="#fff" stroke-width="1.24">]</text>
</g></g>
<g transform="translate(671.50 347.80) rotate(-90)">
<text transform="matrix(0.2189 0 0 0.2126 0.56 -0.13)" font-size="100" font-family="Liberation Serif, serif" font-style="italic" fill="#242424" stroke="#fff" stroke-width="1.21">ρ</text>
<text transform="matrix(0.1542 0 0 0.1622 11.42 2.44)" font-size="100" font-family="Liberation Serif, serif" font-style="italic" fill="#242424" stroke="#fff" stroke-width="1.64">O</text>
<g transform="translate(0.00 0)">
<text transform="matrix(0.1947 0 0 0.2448 25.34 -0.31)" font-size="100" font-family="Liberation Serif, serif" fill="#242424" stroke="#fff" stroke-width="1.18">(</text>
<text transform="matrix(0.2162 0 0 0.2132 32.28 -0.11)" font-size="100" font-family="Liberation Serif, serif" font-style="italic" fill="#242424" stroke="#fff" stroke-width="1.21">ω</text>
<text transform="matrix(0.1908 0 0 0.2448 48.29 -0.31)" font-size="100" font-family="Liberation Serif, serif" fill="#242424" stroke="#fff" stroke-width="1.19">)</text>
<text transform="matrix(0.1437 0 0 0.2755 57.23 1.31)" font-size="100" font-family="Liberation Serif, serif" fill="#242424" stroke="#fff" stroke-width="1.24">[</text>
<text transform="matrix(0.2501 0 0 0.2528 63.42 0.55)" font-size="100" font-family="Liberation Serif, serif" font-style="italic" fill="#242424" stroke="#fff" stroke-width="1.03">J</text>
<text transform="matrix(0.1848 0 0 0.2610 77.78 -3.08)" font-size="100" font-family="Liberation Serif, serif" fill="#242424" stroke="#fff" stroke-width="1.17">−</text>
<text transform="matrix(0.1676 0 0 0.1484 88.03 -7.80)" font-size="100" font-family="Liberation Serif, serif" fill="#242424" stroke="#fff" stroke-width="1.65">1</text>
<text transform="matrix(0.1437 0 0 0.2755 97.98 1.31)" font-size="100" font-family="Liberation Serif, serif" fill="#242424" stroke="#fff" stroke-width="1.24">]</text>
</g></g>
<g transform="translate(677.80 560.80) rotate(-90)">
<text transform="matrix(0.2189 0 0 0.2126 0.56 -0.13)" font-size="100" font-family="Liberation Serif, serif" font-style="italic" fill="#242424" stroke="#fff" stroke-width="1.21">ρ</text>
<text transform="matrix(0.1572 0 0 0.1573 11.68 2.40)" font-size="100" font-family="Liberation Serif, serif" font-style="italic" fill="#242424" stroke="#fff" stroke-width="1.65">M</text>
<g transform="translate(3.50 0)">
<text transform="matrix(0.1947 0 0 0.2448 25.34 -0.31)" font-size="100" font-family="Liberation Serif, serif" fill="#242424" stroke="#fff" stroke-width="1.18">(</text>
<text transform="matrix(0.2162 0 0 0.2132 32.28 -0.11)" font-size="100" font-family="Liberation Serif, serif" font-style="italic" fill="#242424" stroke="#fff" stroke-width="1.21">ω</text>
<text transform="matrix(0.1908 0 0 0.2448 48.29 -0.31)" font-size="100" font-family="Liberation Serif, serif" fill="#242424" stroke="#fff" stroke-width="1.19">)</text>
<text transform="matrix(0.1437 0 0 0.2755 57.23 1.31)" font-size="100" font-family="Liberation Serif, serif" fill="#242424" stroke="#fff" stroke-width="1.24">[</text>
<text transform="matrix(0.2501 0 0 0.2528 63.42 0.55)" font-size="100" font-family="Liberation Serif, serif" font-style="italic" fill="#242424" stroke="#fff" stroke-width="1.03">J</text>
<text transform="matrix(0.1848 0 0 0.2610 77.78 -3.08)" font-size="100" font-family="Liberation Serif, serif" fill="#242424" stroke="#fff" stroke-width="1.17">−</text>
<text transform="matrix(0.1676 0 0 0.1484 88.03 -7.80)" font-size="100" font-family="Liberation Serif, serif" fill="#242424" stroke="#fff" stroke-width="1.65">1</text>
<text transform="matrix(0.1437 0 0 0.2755 97.98 1.31)" font-size="100" font-family="Liberation Serif, serif" fill="#242424" stroke="#fff" stroke-width="1.24">]</text>
</g></g>
</svg>
</body></html>
